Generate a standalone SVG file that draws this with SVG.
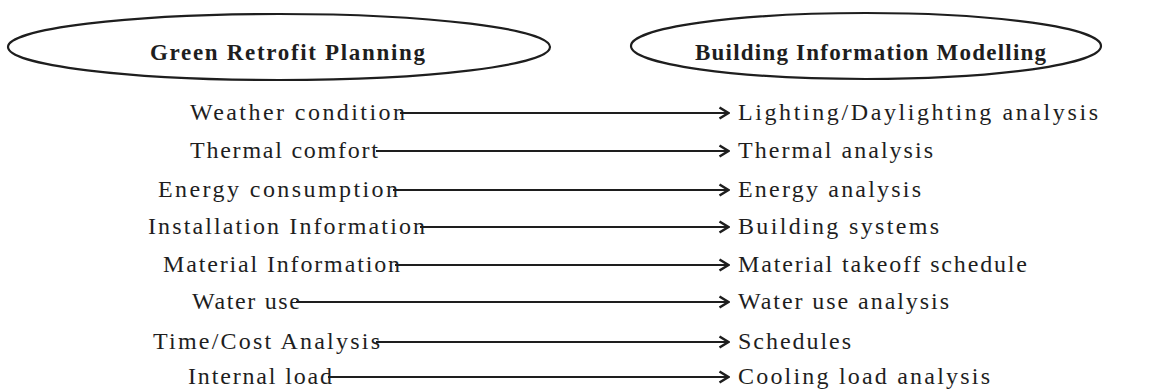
<svg xmlns="http://www.w3.org/2000/svg" width="1157" height="391" viewBox="0 0 1157 391">
<defs>
<style>
.bg{fill:#ffffff}
.ell{fill:none;stroke:#1e1e1e;stroke-width:2.2}
.title{font-family:"Liberation Serif","Times New Roman",serif;font-weight:bold;font-size:23px;fill:#1e1e1e}
.lbl{font-family:"Liberation Serif","Times New Roman",serif;font-size:24px;fill:#1e1e1e}
.conn{stroke:#1e1e1e;stroke-width:1.8;fill:none;marker-end:url(#arr)}
</style>
<marker id="arr" viewBox="0 0 12 14" refX="11" refY="7" markerWidth="12" markerHeight="14" markerUnits="userSpaceOnUse" orient="auto">
<path d="M1.5,1.5 L10.5,7 L1.5,12.5" fill="none" stroke="#1e1e1e" stroke-width="2.6"/>
</marker>
</defs>
<rect class="bg" x="0" y="0" width="1157" height="391"/>
<g id="node-green">
<ellipse class="ell" cx="279" cy="47" rx="271" ry="33"/>
<text class="title" x="150" y="60" textLength="275" lengthAdjust="spacing">Green Retrofit Planning</text>
</g>
<g id="node-bim">
<ellipse class="ell" cx="866" cy="46" rx="235" ry="33"/>
<text class="title" x="695" y="60" textLength="351" lengthAdjust="spacing">Building Information Modelling</text>
</g>
<g id="left-items">
<g id="l1"><text class="lbl" x="190" y="120" textLength="215" lengthAdjust="spacing">Weather condition</text></g>
<g id="l2"><text class="lbl" x="190" y="158" textLength="188" lengthAdjust="spacing">Thermal comfort</text></g>
<g id="l3"><text class="lbl" x="158" y="197" textLength="240" lengthAdjust="spacing">Energy consumption</text></g>
<g id="l4"><text class="lbl" x="148" y="234" textLength="277" lengthAdjust="spacing">Installation Information</text></g>
<g id="l5"><text class="lbl" x="163" y="272" textLength="237" lengthAdjust="spacing">Material Information</text></g>
<g id="l6"><text class="lbl" x="192" y="309" textLength="108" lengthAdjust="spacing">Water use</text></g>
<g id="l7"><text class="lbl" x="153" y="349" textLength="227" lengthAdjust="spacing">Time/Cost Analysis</text></g>
<g id="l8"><text class="lbl" x="188" y="384" textLength="144" lengthAdjust="spacing">Internal load</text></g>
</g>
<g id="right-items">
<g id="r1"><text class="lbl" x="738" y="120" textLength="360" lengthAdjust="spacing">Lighting/Daylighting analysis</text></g>
<g id="r2"><text class="lbl" x="738" y="158" textLength="195" lengthAdjust="spacing">Thermal analysis</text></g>
<g id="r3"><text class="lbl" x="738" y="197" textLength="183" lengthAdjust="spacing">Energy analysis</text></g>
<g id="r4"><text class="lbl" x="738" y="234" textLength="201" lengthAdjust="spacing">Building systems</text></g>
<g id="r5"><text class="lbl" x="738" y="272" textLength="289" lengthAdjust="spacing">Material takeoff schedule</text></g>
<g id="r6"><text class="lbl" x="738" y="309" textLength="211" lengthAdjust="spacing">Water use analysis</text></g>
<g id="r7"><text class="lbl" x="738" y="349" textLength="113" lengthAdjust="spacing">Schedules</text></g>
<g id="r8"><text class="lbl" x="738" y="384" textLength="252" lengthAdjust="spacing">Cooling load analysis</text></g>
</g>
<g id="connectors">
<line class="conn" x1="400" y1="113" x2="729" y2="113"/>
<line class="conn" x1="376" y1="151" x2="729" y2="151"/>
<line class="conn" x1="393" y1="190" x2="729" y2="190"/>
<line class="conn" x1="420" y1="227" x2="729" y2="227"/>
<line class="conn" x1="395" y1="265" x2="729" y2="265"/>
<line class="conn" x1="296" y1="302" x2="729" y2="302"/>
<line class="conn" x1="376" y1="342" x2="729" y2="342"/>
<line class="conn" x1="328" y1="377" x2="729" y2="377"/>
</g>
</svg>
